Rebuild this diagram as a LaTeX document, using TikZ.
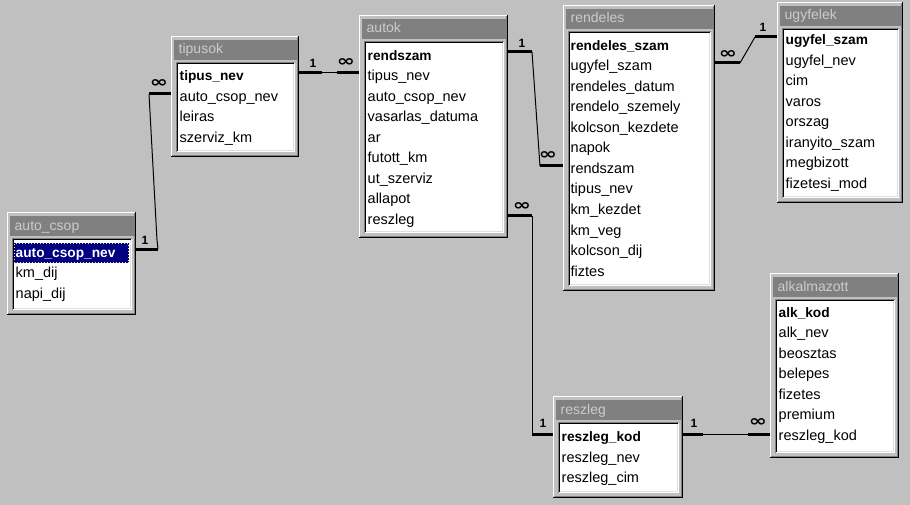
\documentclass[tikz,border=0pt]{standalone}
\usepackage{fontspec}
\usepackage{graphicx}
\setmainfont{Liberation Sans}
\newfontfamily\symf{DejaVu Sans}
\definecolor{bgc}{HTML}{C0C0C0}
\definecolor{dgrey}{HTML}{808080}
\definecolor{lgrey}{HTML}{DFDFDF}
\definecolor{ttltext}{HTML}{CCCCCC}
\definecolor{navy}{HTML}{000080}
\definecolor{focusc}{HTML}{E8E8A0}
\tikzset{
  fld/.style={anchor=west, inner sep=0, text height=11pt, text depth=3pt, font=\fontsize{14.5}{16}\selectfont},
  keyfld/.style={fld, font=\fontsize{13.7}{16}\selectfont\bfseries},
  ttl/.style={anchor=west, inner sep=0, text height=11pt, text depth=3pt, text=ttltext, font=\fontsize{14}{16}\selectfont},
  thinln/.style={line width=1pt, black},
  thickln/.style={line width=3pt, black},
  card/.style={inner sep=0, font=\fontsize{12}{13}\selectfont\bfseries},
  many/.style={inner sep=0, font=\symf\bfseries\fontsize{15}{16}\selectfont},
}
\newcommand{\infsym}{\scalebox{1.45}[1.05]{∞}}
% name, l, t, r, b, title
\newcommand{\acctbl}[6]{%
  \node[inner sep=0, minimum width={#4pt-#2pt}, minimum height={#5pt-#3pt}, anchor=north west] (#1) at (#2,#3) {};
  \fill[black] (#2,#3) rectangle (#4,#5);
  \fill[white] (#2,#3) rectangle (#4-1,#5-1);
  \fill[dgrey] (#2+1,#3+1) rectangle (#4-1,#5-1);
  \fill[bgc] (#2+1,#3+1) rectangle (#4-2,#5-2);
  \fill[dgrey] (#2+2.5,#3+4) rectangle (#4-2.5,#3+24);
  \fill[dgrey] (#2+4.5,#3+26) rectangle (#4-4.5,#5-5);
  \fill[white] (#2+5.5,#3+27) rectangle (#4-4.5,#5-5);
  \fill[black] (#2+5.5,#3+27) rectangle (#4-5.5,#5-6);
  \fill[lgrey] (#2+6.5,#3+28) rectangle (#4-5.5,#5-6);
  \fill[white] (#2+6.5,#3+28) rectangle (#4-6.5,#5-7);
  \node[ttl] (#1-title) at (#2+7.5,#3+14) {#6};
}
% name, x, y0, key, others
\newcommand{\accfields}[5]{%
  \node[keyfld] (#1-0) at (#2,#3) {#4};
  \foreach \f [count=\i] in {#5} \node[fld] (#1-\i) at (#2,#3+\i*20.5) {\f};
}
\begin{document}
\begin{tikzpicture}[x=1pt,y=-1pt]
\useasboundingbox (0,0) rectangle (910,505);
\fill[bgc] (0,0) rectangle (910,505);

% tables
\acctbl{autocsop}{7}{212}{136}{315}{auto\_csop}
\fill[navy] (14,243) rectangle (129,263);
\node[keyfld, text=white] (autocsop-0) at (15.5,253.3) {auto\_csop\_nev};
\draw[focusc, line width=1pt, dotted] (14.5,243.5) rectangle (128.5,262.5);
\foreach \f [count=\i] in {km\_dij, napi\_dij} \node[fld] (autocsop-\i) at (15.5,253.3+\i*20.5) {\f};

\acctbl{tipusok}{171}{36}{299}{157}{tipusok}
\accfields{tipusok}{179.5}{76.7}{tipus\_nev}{auto\_csop\_nev, leiras, szerviz\_km}

\acctbl{autok}{359}{15}{508}{238}{autok}
\accfields{autok}{367.5}{56.5}{rendszam}{tipus\_nev, auto\_csop\_nev, vasarlas\_datuma, ar, futott\_km, ut\_szerviz, allapot, reszleg}

\acctbl{rendeles}{563}{5}{715}{291}{rendeles}
\accfields{rendeles}{570.5}{46.5}{rendeles\_szam}{ugyfel\_szam, rendeles\_datum, rendelo\_szemely, kolcson\_kezdete, napok, rendszam, tipus\_nev, km\_kezdet, km\_veg, kolcson\_dij, fiztes}

\acctbl{ugyfelek}{777}{2}{903}{203}{ugyfelek}
\accfields{ugyfelek}{785.5}{40.7}{ugyfel\_szam}{ugyfel\_nev, cim, varos, orszag, iranyito\_szam, megbizott, fizetesi\_mod}

\acctbl{alkalmazott}{770}{273}{899}{458}{alkalmazott}
\accfields{alkalmazott}{778.5}{313.3}{alk\_kod}{alk\_nev, beosztas, belepes, fizetes, premium, reszleg\_kod}

\acctbl{reszleg}{553}{396}{683}{498}{reszleg}
\accfields{reszleg}{561.5}{437.7}{reszleg\_kod}{reszleg\_nev, reszleg\_cim}

% connector: tipusok -- autok
\coordinate (c1a) at (322,73);
\coordinate (c1b) at (337,73);
\draw[thickln] (tipusok.east |- c1a) -- (c1a);
\draw[thinln] (c1a) -- (c1b);
\draw[thickln] (c1b) -- (autok.west |- c1b);
\node[card] (l1a) at (313,63) {1};
\node[many] (l1b) at (346,63) {\infsym};

% connector: auto_csop -- tipusok
\coordinate (c2a) at (158,249);
\coordinate (c2m) at (157,240);
\coordinate (c2b) at (149,94);
\draw[thickln] (autocsop.east |- c2a) -- (c2a);
\draw[thinln] (c2a) -- (c2m) -- (c2b);
\draw[thickln] (c2b) -- (tipusok.west |- c2b);
\node[card] (l2a) at (145,240) {1};
\node[many] (l2b) at (159,84) {\infsym};

% connector: autok -- rendeles
\coordinate (c3a) at (532,52);
\coordinate (c3b) at (540,166);
\draw[thickln] (autok.east |- c3a) -- (c3a);
\draw[thinln] (c3a) -- (c3b);
\draw[thickln] (c3b) -- (rendeles.west |- c3b);
\node[card] (l3a) at (522,43) {1};
\node[many] (l3b) at (548,156) {\infsym};

% connector: autok -- reszleg
\coordinate (c4a) at (532,216);
\coordinate (c4b) at (532,434);
\draw[thickln] (autok.east |- c4a) -- (c4a);
\draw[thinln] (c4a) -- (c4b);
\draw[thickln] (c4b) -- (reszleg.west |- c4b);
\node[many] (l4a) at (522,207) {\infsym};
\node[card] (l4b) at (543,423) {1};

% connector: rendeles -- ugyfelek
\coordinate (c5a) at (740,63);
\coordinate (c5b) at (755,37);
\draw[thickln] (rendeles.east |- c5a) -- (c5a);
\draw[thinln] (c5a) -- (c5b);
\draw[thickln] (c5b) -- (ugyfelek.west |- c5b);
\node[many] (l5a) at (728,55) {\infsym};
\node[card] (l5b) at (763,27) {1};

% connector: reszleg -- alkalmazott
\coordinate (c6a) at (703,434);
\coordinate (c6b) at (748,434);
\draw[thickln] (reszleg.east |- c6a) -- (c6a);
\draw[thinln] (c6a) -- (c6b);
\draw[thickln] (c6b) -- (alkalmazott.west |- c6b);
\node[card] (l6a) at (694,423) {1};
\node[many] (l6b) at (758,423) {\infsym};
\end{tikzpicture}
\end{document}
